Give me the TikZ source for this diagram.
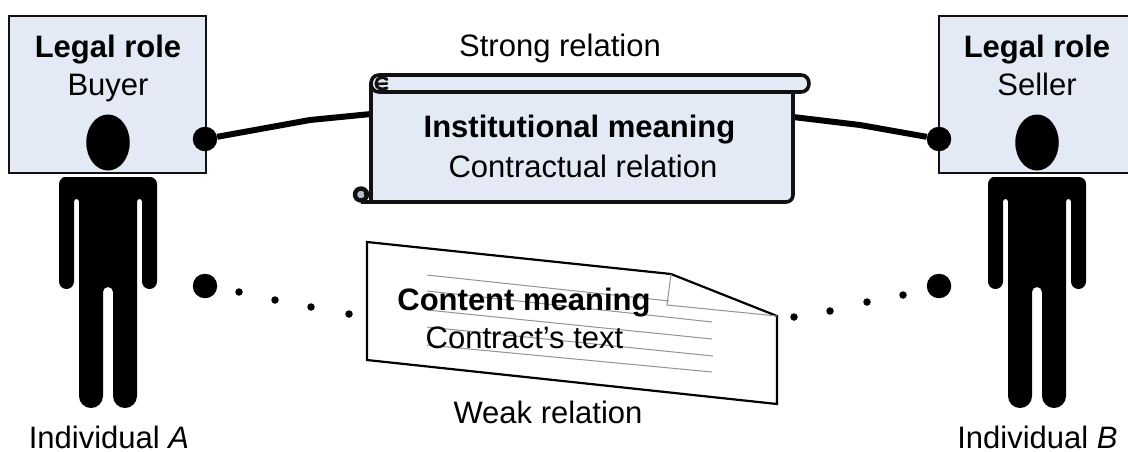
\documentclass[tikz,border=0pt]{standalone}
\usepackage{fontspec}
\setmainfont{Liberation Sans}
\usetikzlibrary{shapes.geometric}
\definecolor{rolefill}{HTML}{E3EAF6}
\definecolor{edgeink}{HTML}{111111}
\definecolor{curlgrey}{HTML}{B9BEC8}
\newcommand{\figurepath}{(59,177) [rounded corners=7] -- (157,177) [rounded corners=7.5] -- (157,289) -- (142,289) [rounded corners=2.5] -- (142,199) -- (137,199) [rounded corners=12] -- (137,408) -- (113,408) [rounded corners=5] -- (113,287) -- (103,287) [rounded corners=12] -- (103,408) -- (79,408) [rounded corners=2.5] -- (79,199) -- (74,199) [rounded corners=7.5] -- (74,289) -- (59,289) [rounded corners=7] -- (59,177) -- (100,177)}
\tikzset{
  x=1pt,y=-1pt,
  lab/.style={font=\fontsize{31}{34}\selectfont,inner sep=0pt,text=black,anchor=base},
  labb/.style={font=\fontsize{31}{34}\selectfont\bfseries,inner sep=0pt,text=black,anchor=base},
  rolebox/.style={draw=edgeink,fill=rolefill,line width=2.3pt,minimum width=197pt,minimum height=157pt,inner sep=0pt},
  head/.style={ellipse,fill=black,inner sep=0pt,minimum width=43.5pt,minimum height=56pt},
  bigdot/.style={circle,fill=black,inner sep=0pt,minimum size=24.5pt},
  smalldot/.style={circle,fill=black,inner sep=0pt,minimum size=7.5pt},
  link/.style={line width=6pt,black},
  scrollink/.style={draw=edgeink,line width=3.6pt,fill=rolefill,line join=round},
  noteink/.style={draw=black,line width=2.2pt,fill=white,line join=miter},
  notegrey/.style={draw=gray!85,line width=1pt},
}
\begin{document}
\begin{tikzpicture}
\useasboundingbox (0,0) rectangle (1128,451);
\clip (0,0) rectangle (1128,451);
\fill[white] (0,0) rectangle (1128,451);
% role boxes
\node[rolebox] (roleA) at (107.5,94.5) {};
\node[rolebox] (roleB) at (1037.5,94.5) {};
\node[labb] (roleAt) at (108,57) {Legal role};
\node[lab] (roleAn) at (108,95) {Buyer};
\node[labb] (roleBt) at (1037,57) {Legal role};
\node[lab] (roleBn) at (1037,95) {Seller};
% figures
\node[head] (headA) at (108,142.5) {};
\node[head] (headB) at (1037,142.5) {};
\fill[black] \figurepath;
\fill[black,xshift=929pt] \figurepath;
\node[lab] (indA) at (109,448) {Individual \textit{A}};
\node[lab] (indB) at (1037.5,448) {Individual \textit{B}};
% scroll
\coordinate (scrollL) at (371,114);
\coordinate (scrollR) at (793,117);
\coordinate (bendL) at (310,120);
\coordinate (bendR) at (860,125);
\node[bigdot] (dotA) at (205,139) {};
\node[bigdot] (dotB) at (939,139) {};
\draw[link] (dotA) -- (bendL) -- (scrollL);
\draw[link] (dotB) -- (bendR) -- (scrollR);
\filldraw[draw=edgeink,line width=4.4pt,fill=curlgrey] (361,194.5) circle[radius=6];
\path[scrollink] (371,83) -- (371,202) [rounded corners=7] -- (793,202) [sharp corners] -- (793,85) -- cycle;
\draw[edgeink,line width=3.6pt] (361,202) -- (372,202);
\draw[edgeink,line width=3pt] (371.5,192) -- (364,194.5);
\path[scrollink] (379,75) -- (801,75) .. controls (806,75) and (809,79) .. (809,83.5) .. controls (809,88) and (806,92) .. (801,92) -- (379,92) .. controls (374,92) and (371,88) .. (371,83.5) .. controls (371,79) and (374,75) .. (379,75) -- cycle;
\draw[edgeink,line width=3pt,line cap=round] (387,79.5) .. controls (384,76) and (376,77) .. (376,83.5) .. controls (376,88.5) and (382,90.5) .. (387,88);
\draw[edgeink,line width=2.6pt,line cap=round] (378,84) -- (387,83.5);
\node[labb] (instT) at (579.5,137) {Institutional meaning};
\node[lab] (instS) at (583,177) {Contractual relation};
\node[lab] (strong) at (560,56) {Strong relation};
% note
\path[noteink] (367,242) -- (671,274) -- (777,316) -- (777,404) -- (367,360) -- cycle;
\draw[notegrey] (671,274) -- (667,305) -- (777,316);
\draw[notegrey] (427,275) -- (669,301);
\draw[notegrey] (427,291) -- (712,322);
\draw[notegrey] (427,310) -- (712,339);
\draw[notegrey] (427,327) -- (713,356);
\draw[notegrey] (427,345) -- (712,372);
\node[labb] (contT) at (524,310) {Content meaning};
\node[lab] (contS) at (524.5,348) {Contract’s text};
\node[lab] (weak) at (548,423) {Weak relation};
% dots
\node[bigdot] (dotC) at (205,286) {};
\node[bigdot] (dotD) at (939,286) {};
\node[smalldot] (a1) at (239,292) {};
\node[smalldot] (a2) at (275,300) {};
\node[smalldot] (a3) at (311,307) {};
\node[smalldot] (a4) at (349,314) {};
\node[smalldot] (b1) at (794,317) {};
\node[smalldot] (b2) at (830,311) {};
\node[smalldot] (b3) at (867,302) {};
\node[smalldot] (b4) at (903,295) {};
\end{tikzpicture}
\end{document}
